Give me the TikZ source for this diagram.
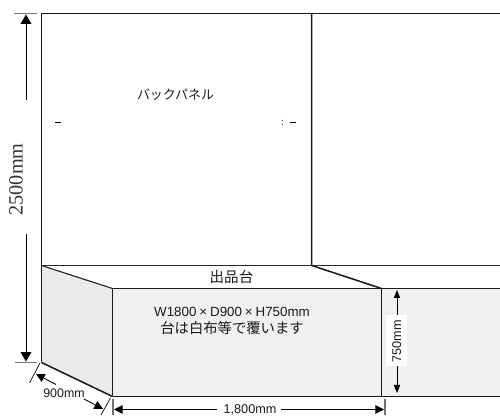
\documentclass[tikz,border=0pt]{standalone}
\usepackage{fontspec}
\setmainfont{Liberation Sans}
\newfontfamily\cjk{Noto Sans CJK JP}
\newfontfamily\serifl{Liberation Serif}
\usetikzlibrary{arrows.meta}
\tikzset{
  x=0.75pt,y=-0.75pt,
  edge/.style={draw=black!90,line width=1.15pt},
  thin edge/.style={draw=black!85,line width=0.85pt},
  tick/.style={draw=black!55,line width=0.9pt},
  dimbig/.style={draw=black,line width=0.65pt,{Triangle[length=7pt,width=8pt]}-},
  dimmid/.style={draw=black,line width=0.65pt,{Triangle[length=6.5pt,width=6.5pt]}-},
  dimsmall/.style={draw=black,line width=0.65pt,{Triangle[length=6pt,width=4.6pt]}-},
  lab/.style={inner sep=0pt,text=black!90},
}
\begin{document}
\begin{tikzpicture}
\useasboundingbox (0,0) rectangle (500,416);
% corners
\coordinate (ptl) at (41.5,13.5);
\coordinate (ptr) at (500,13.5);
\coordinate (pbl) at (41.5,362.5);
\coordinate (bl) at (41.5,265.5);
\coordinate (br) at (500,265.5);
\coordinate (div) at (311.7,13.5);
\coordinate (divb) at (311.7,265.5);
\coordinate (ftl) at (112.5,288.5);
\coordinate (fbl) at (112.5,396.5);
\coordinate (ftm) at (381.5,288.5);
\coordinate (fbm) at (381.5,396.5);
\coordinate (ftr) at (500,288.5);
\coordinate (fbr) at (500,396.5);
% faces
\fill[black!8] (bl) -- (ftl) -- (fbl) -- (pbl) -- cycle;
\fill[black!6] (ftl) -- (ftr) -- (fbr) -- (fbl) -- cycle;
% panel
\draw[edge] (ptr) -- (ptl) -- (pbl);
\draw[edge] (div) -- (divb) -- (ftm);
\draw[thin edge] (bl) -- (br);
\draw[thin edge] (bl) -- (ftl);
\draw[edge] (ftl) -- (ftr);
\draw[edge] (ftl) -- (fbl);
\draw[edge] (pbl) -- (fbl);
\draw[edge] (fbl) -- (fbr);
\draw[edge] (ftm) -- (fbm);
% marks on the panel
\coordinate (m1a) at (55,122.5); \coordinate (m1b) at (61,122.5);
\coordinate (m2a) at (290,122.5); \coordinate (m2b) at (296,122.5);
\draw[black,line width=0.7pt] (m1a) -- (m1b);
\draw[black,line width=0.7pt] (m2a) -- (m2b);
\node[lab,font=\cjk,scale=0.75,text=black!70] (colon) at (282.5,123) {:};
% labels
\node[lab,font=\cjk\fontsize{9.7pt}{11pt}\selectfont] (panel) at (175.5,94.5) {バックパネル};
\node[lab,font=\cjk\fontsize{10.9pt}{12pt}\selectfont] (dai) at (231.5,277) {出品台};
\node[lab,font=\fontsize{10pt}{11pt}\selectfont] (spec) at (232,311.5) {W1800\hspace{0.22em}×\hspace{0.22em}D900\hspace{0.22em}×\hspace{0.22em}H750mm};
\node[lab,font=\cjk\fontsize{10.75pt}{12pt}\selectfont] (cover) at (232,328) {台は白布等で覆います};
% 2500mm
\coordinate (t1a) at (14,13.5); \coordinate (t1b) at (37,13.5);
\coordinate (t2a) at (15,362.5); \coordinate (t2b) at (37,362.5);
\draw[tick] (t1a) -- (t1b);
\draw[tick] (t2a) -- (t2b);
\node[lab,rotate=90,text=black!80,font=\serifl\fontsize{15.2pt}{17pt}\selectfont] (h) at (16,179.5) {2500mm};
\coordinate (h1) at (26,14.5); \coordinate (h2) at (26,100);
\coordinate (h3) at (26,361.5); \coordinate (h4) at (26,234);
\draw[dimbig] (h1) -- (h2);
\draw[dimbig] (h3) -- (h4);
% 900mm
\coordinate (d1a) at (40,363); \coordinate (d1b) at (29.5,383);
\coordinate (d2a) at (110.5,398); \coordinate (d2b) at (101,415);
\draw[draw=black,line width=0.5pt] (d1a) -- (d1b);
\draw[draw=black,line width=0.5pt] (d2a) -- (d2b);
\node[lab,font=\fontsize{9.3pt}{11pt}\selectfont] (dep) at (64,393) {900mm};
\coordinate (e1) at (36,374); \coordinate (e2) at (56,384.5);
\coordinate (e3) at (103,409); \coordinate (e4) at (84,399);
\draw[dimmid] (e1) -- (e2);
\draw[dimmid] (e3) -- (e4);
% 1800
\coordinate (w1a) at (113,399); \coordinate (w1b) at (113,415);
\coordinate (w2a) at (385,399); \coordinate (w2b) at (385,415);
\draw[tick] (w1a) -- (w1b);
\draw[tick] (w2a) -- (w2b);
\node[lab,font=\fontsize{9.5pt}{11pt}\selectfont] (wid) at (250,409.5) {1,800mm};
\coordinate (w1) at (114,409.5); \coordinate (w2) at (217,409.5);
\coordinate (w3) at (384,409.5); \coordinate (w4) at (281,409.5);
\draw[dimmid] (w1) -- (w2);
\draw[dimmid] (w3) -- (w4);
% 750
\node[fill=white,inner sep=0pt,minimum width=15.75pt,minimum height=38.25pt] (hbg) at (396.5,340.5) {};
\node[lab,rotate=90,font=\fontsize{9.5pt}{11pt}\selectfont] (v) at (396.7,341.5) {750mm};
\coordinate (v1) at (397,290); \coordinate (v2) at (397,315);
\coordinate (v3) at (397,393); \coordinate (v4) at (397,366);
\draw[dimsmall] (v1) -- (v2);
\draw[dimsmall] (v3) -- (v4);
\end{tikzpicture}
\end{document}
